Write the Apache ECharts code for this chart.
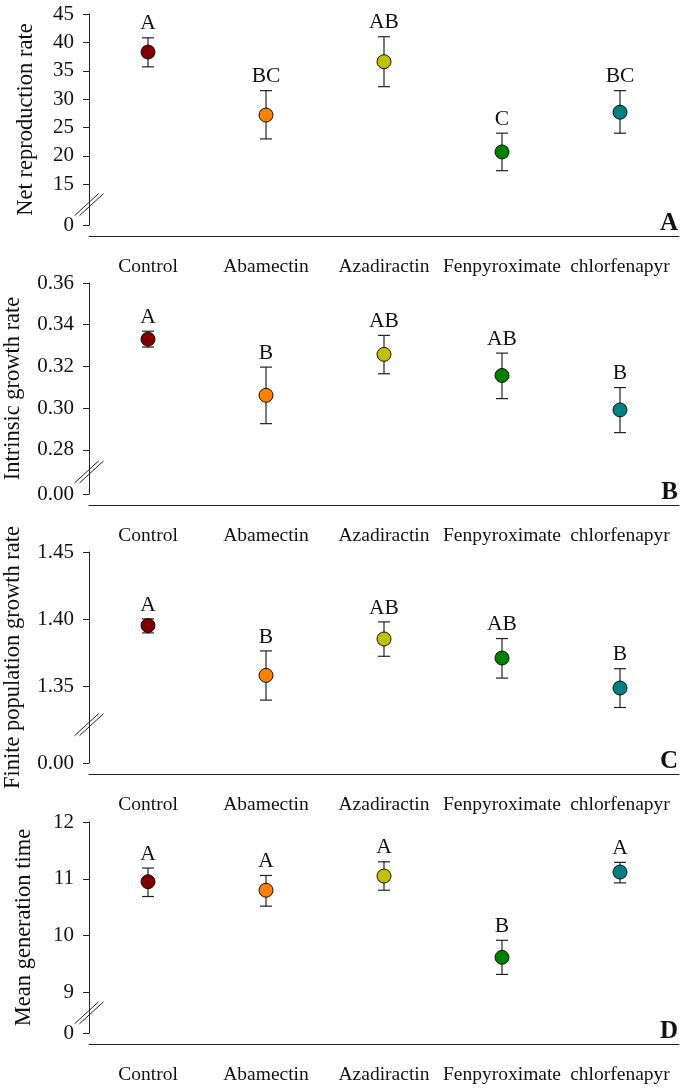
<!DOCTYPE html>
<html>
<head>
<meta charset="utf-8">
<script src="https://cdn.jsdelivr.net/npm/echarts@6/dist/echarts.min.js"></script>
<style>
  html, body { margin: 0; padding: 0; background: #fff; }
  #chart { width: 685px; height: 1090px; }
</style>
</head>
<body>
<div id="chart"></div>
<script>
const categories = ["Control", "Abamectin", "Azadiractin", "Fenpyroximate", "chlorfenapyr"];

// A: net reproduction rate
const r0Mean = [38.3, 27.2, 36.6, 20.7, 27.7];
const r0Low = [35.7, 23.0, 32.2, 17.4, 24.0];
const r0High = [40.8, 31.5, 41.0, 24.0, 31.5];
const r0Letters = ["A", "BC", "AB", "C", "BC"];
const r0Ticks = [15, 20, 25, 30, 35, 40, 45];

// B: intrinsic growth rate
const rMean = [0.3331, 0.3062, 0.3258, 0.3157, 0.2992];
const rLow = [0.3293, 0.2926, 0.3165, 0.3046, 0.2883];
const rHigh = [0.3369, 0.3197, 0.3349, 0.3264, 0.3099];
const rLetters = ["A", "B", "AB", "AB", "B"];
const rTicks = [0.28, 0.30, 0.32, 0.34, 0.36];

// C: finite population growth rate
const lamMean = [1.3953, 1.3582, 1.3853, 1.3711, 1.3488];
const lamLow = [1.3898, 1.3398, 1.3724, 1.3562, 1.3343];
const lamHigh = [1.4002, 1.3764, 1.3980, 1.3856, 1.3632];
const lamLetters = ["A", "B", "AB", "AB", "B"];
const lamTicks = [1.35, 1.40, 1.45];

// D: mean generation time
const tMean = [10.95, 10.80, 11.05, 9.62, 11.12];
const tLow = [10.69, 10.52, 10.80, 9.32, 10.93];
const tHigh = [11.19, 11.06, 11.30, 9.92, 11.29];
const tLetters = ["A", "A", "A", "B", "A"];
const tTicks = [9, 10, 11, 12];

const dotColors = ["#800000", "#ff8000", "#c0c000", "#008000", "#008080"];
const FONT = "'Liberation Serif', 'Times New Roman', serif";
const INK = "#222";

// zero = axis min standing in for the "0" below the break
const panels = [
  { name: "Net reproduction rate", mean: r0Mean, low: r0Low, high: r0High, letters: r0Letters,
    ticks: r0Ticks, zero: 7.83, zeroLabel: "0", dec: 0, tag: "A", nameGap: 51, top: 14 },
  { name: "Intrinsic growth rate", mean: rMean, low: rLow, high: rHigh, letters: rLetters,
    ticks: rTicks, zero: 0.2589, zeroLabel: "0.00", dec: 2, tag: "B", nameGap: 64, top: 283 },
  { name: "Finite population growth rate", mean: lamMean, low: lamLow, high: lamHigh, letters: lamLetters,
    ticks: lamTicks, zero: 1.293, zeroLabel: "0.00", dec: 2, tag: "C", nameGap: 64, top: 552 },
  { name: "Mean generation time", mean: tMean, low: tLow, high: tHigh, letters: tLetters,
    ticks: tTicks, zero: 8.29, zeroLabel: "0", dec: 0, tag: "D", nameGap: 53, top: 822 }
];

const GRID_LEFT = 89, GRID_W = 590, GRID_H = 211, X_OFFSET = 11;

const chart = echarts.init(document.getElementById("chart"));

const option = {
  animation: false,
  backgroundColor: "#fff",
  grid: panels.map(p => ({
    left: GRID_LEFT, width: GRID_W, top: p.top, height: GRID_H,
    containLabel: false, outerBoundsMode: "none"
  })),
  xAxis: panels.map((p, i) => ({
    type: "category",
    gridIndex: i,
    data: categories,
    offset: X_OFFSET,
    axisLine: { onZero: false, lineStyle: { color: INK, width: 1 } },
    axisTick: { alignWithLabel: true, length: 5, lineStyle: { color: INK } },
    axisLabel: { interval: 0, fontFamily: FONT, fontSize: 19.5, color: "#111", margin: 21 },
    splitLine: { show: false }
  })),
  yAxis: panels.map((p, i) => {
    const vals = [p.zero].concat(p.ticks);
    return {
      type: "value",
      gridIndex: i,
      position: "left",
      min: p.zero,
      max: p.ticks[p.ticks.length - 1],
      name: p.name,
      nameLocation: "middle",
      nameGap: p.nameGap,
      nameTextStyle: { fontFamily: FONT, fontSize: 22.5, color: "#111" },
      axisLine: { show: true, onZero: false, lineStyle: { color: INK, width: 1 } },
      axisTick: { show: true, length: 6, customValues: vals, lineStyle: { color: INK } },
      axisLabel: {
        customValues: vals,
        fontFamily: FONT,
        fontSize: 21,
        color: "#111",
        margin: 15,
        formatter: v => (Math.abs(v - p.zero) < 1e-9 ? p.zeroLabel : Number(v).toFixed(p.dec))
      },
      splitLine: { show: false }
    };
  }),
  series: []
};

panels.forEach((p, i) => {
  // error bars + significance letters
  option.series.push({
    type: "custom",
    xAxisIndex: i,
    yAxisIndex: i,
    z: 2,
    data: categories.map((c, j) => [j, p.low[j], p.high[j]]),
    renderItem: (params, api) => {
      const lo = api.coord([api.value(0), api.value(1)]);
      const hi = api.coord([api.value(0), api.value(2)]);
      const w = 6;
      const ls = { stroke: INK, lineWidth: 1.2 };
      return {
        type: "group",
        children: [
          { type: "line", shape: { x1: lo[0], y1: lo[1], x2: hi[0], y2: hi[1] }, style: ls },
          { type: "line", shape: { x1: hi[0] - w, y1: hi[1], x2: hi[0] + w, y2: hi[1] }, style: ls },
          { type: "line", shape: { x1: lo[0] - w, y1: lo[1], x2: lo[0] + w, y2: lo[1] }, style: ls },
          {
            type: "text", x: hi[0], y: hi[1] - 3,
            style: {
              text: p.letters[params.dataIndex], align: "center", verticalAlign: "bottom",
              fontFamily: FONT, fontSize: 21.5, fill: "#111"
            }
          }
        ]
      };
    }
  });
  // mean points
  option.series.push({
    type: "scatter",
    xAxisIndex: i,
    yAxisIndex: i,
    z: 3,
    symbolSize: 14,
    itemStyle: { borderColor: "#111", borderWidth: 1, opacity: 1 },
    data: p.mean.map((v, j) => ({ value: [j, v], itemStyle: { color: dotColors[j] } }))
  });
});

chart.setOption(option);

// axis break marks and panel tags
const graphics = [];
panels.forEach((p, i) => {
  const zeroY = chart.convertToPixel({ yAxisIndex: i }, p.zero);
  const lowY = chart.convertToPixel({ yAxisIndex: i }, p.ticks[0]);
  const midY = (zeroY + lowY) / 2;
  [-2.5, 2.5].forEach(d => {
    graphics.push({
      type: "line",
      shape: { x1: GRID_LEFT - 12 + d, y1: midY + 11, x2: GRID_LEFT + 12 + d, y2: midY - 11 },
      style: { stroke: INK, lineWidth: 1 },
      z: 10
    });
  });
  graphics.push({
    type: "text",
    x: GRID_LEFT + GRID_W - 1,
    y: zeroY + X_OFFSET,
    style: {
      text: p.tag, align: "right", verticalAlign: "bottom",
      fontFamily: FONT, fontSize: 25, fontWeight: "bold", fill: "#111"
    },
    z: 10
  });
});
chart.setOption({ graphic: graphics });
</script>
</body>
</html>
